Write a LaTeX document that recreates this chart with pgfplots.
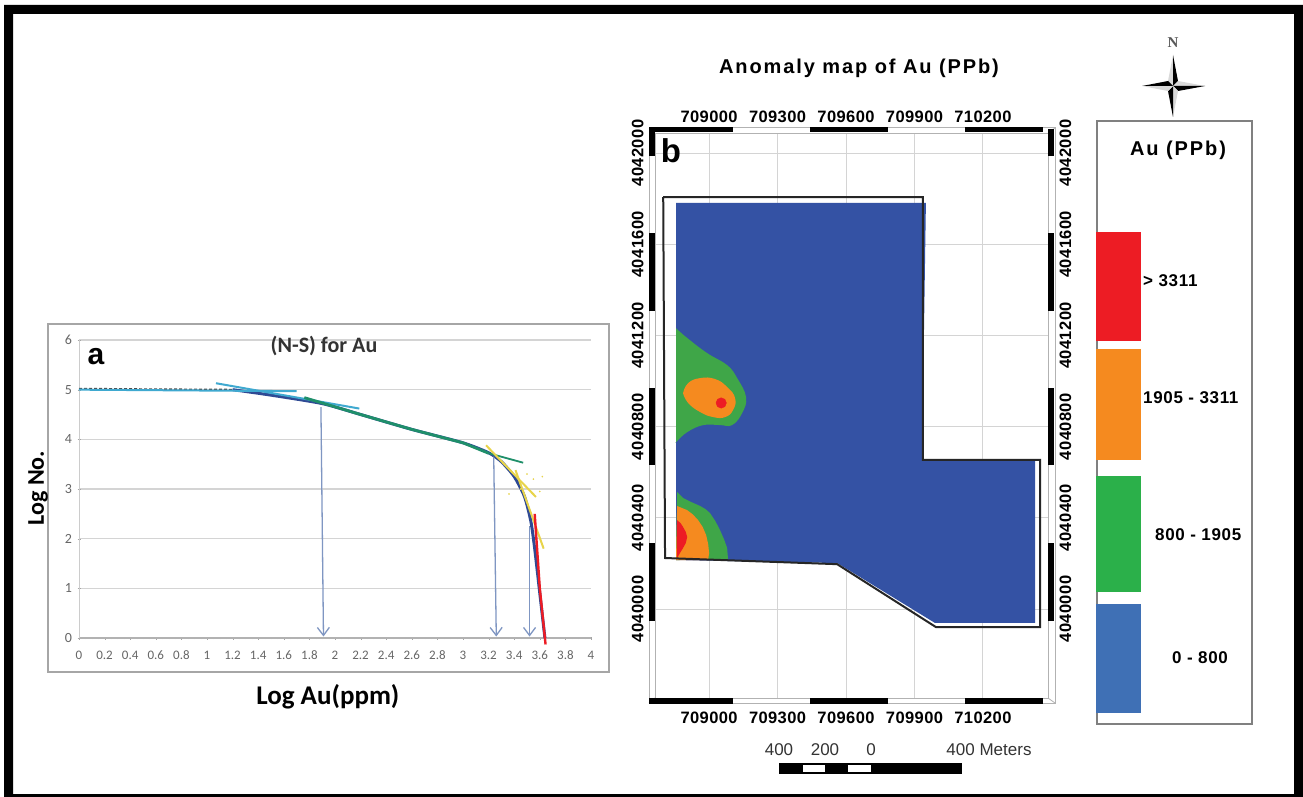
\documentclass[border=0pt]{standalone}
\usepackage{fontspec}
\setmainfont{Liberation Sans}
\newfontfamily\carl{Carlito}
\newfontfamily\tms{Liberation Serif}
\usepackage{pgfplots}
\pgfplotsset{compat=1.18}
\usetikzlibrary{arrows.meta}
\definecolor{mblue}{HTML}{3452A4}
\definecolor{mgreen}{HTML}{3FA648}
\definecolor{morange}{HTML}{F58A1F}
\definecolor{mred}{HTML}{ED1C24}
\definecolor{lblue}{HTML}{3F70B5}
\definecolor{lgreen}{HTML}{2BB04A}
\definecolor{arrowc}{HTML}{7F96C2}
\definecolor{gridc}{HTML}{D4D4D4}
\definecolor{lcyan}{HTML}{3FA9D0}
\definecolor{lgrn}{HTML}{1F8F6A}
\definecolor{lyel}{HTML}{E8D44A}
\newcommand{\tickfont}{\bfseries\fontsize{16.5}{17}\selectfont\addfontfeatures{LetterSpace=2.5}}
\newcommand{\ttlfont}{\bfseries\fontsize{20}{21}\selectfont\addfontfeatures{LetterSpace=9.5}}
\newcommand{\legfont}{\bfseries\fontsize{17}{18}\selectfont\addfontfeatures{LetterSpace=4}}
\begin{document}
\begin{tikzpicture}
\begin{scope}[x=1pt,y=-1pt]
\fill[white] (0,0) rectangle (1303,797);
\fill[black,even odd rule] (4,5) rectangle (1303,797) (13,14) rectangle (1294,794);
\draw[color=black!35,line width=1.2pt] (48,324) rectangle (609,672);
\end{scope}
% ---------- panel a
\begin{axis}[
  scale only axis, width=512pt, height=298pt,
  at={(79pt,-638pt)}, anchor=south west,
  xmin=0, xmax=4, ymin=0, ymax=6,
  axis x line=bottom, axis y line=left,
  x axis line style={-,color=black!30,line width=1.5pt},
  y axis line style={-,color=black!20,line width=1pt},
  xtick={0,0.2,0.4,0.6,0.8,1,1.2,1.4,1.6,1.8,2,2.2,2.4,2.6,2.8,3,3.2,3.4,3.6,3.8,4},
  xticklabels={0,0.2,0.4,0.6,0.8,1,1.2,1.4,1.6,1.8,2,2.2,2.4,2.6,2.8,3,3.2,3.4,3.6,3.8,4},
  minor x tick num=3,
  ytick={0,1,2,3,4,5,6},
  ymajorgrids, grid style={gridc,line width=1.4pt},
  tick style={color=black!35},
  major tick length=3pt, minor tick length=2pt,
  x tick label style={font=\carl\fontsize{13}{14}\selectfont,text=black!60,yshift=-8pt},
  y tick label style={font=\carl\fontsize{14}{15}\selectfont,text=black!60,xshift=-2pt},
  /pgf/number format/assume math mode=true,
  clip=false,
  xlabel={Log Au(ppm)}, ylabel={Log No.},
  xlabel style={font=\carl\bfseries\fontsize{27}{28}\selectfont,at={(axis description cs:0.486,-0.198)},anchor=center},
  ylabel style={font=\carl\bfseries\fontsize{24}{25}\selectfont,at={(axis description cs:-0.08,0.503)},anchor=center,rotate=0},
]
\addplot[black!70,densely dashed,line width=1.8pt] coordinates {(0,5.02)(0.5,5.01)(1.2,5.0)};
\addplot[mblue!90!black,line width=3pt,smooth,tension=0.4] coordinates {(1.2,5.0)(1.5,4.89)(1.9,4.72)(2.2,4.5)(2.6,4.2)(3,3.93)(3.2,3.73)(3.3,3.55)(3.4,3.25)(3.48,2.85)(3.53,2.35)(3.56,1.8)(3.6,0.9)(3.64,0)};
\addplot[lcyan,line width=2pt] coordinates {(0,5.0)(1.7,4.97)};
\addplot[lcyan,line width=2pt] coordinates {(1.07,5.13)(2.19,4.62)};
\addplot[lgrn,line width=2.8pt] coordinates {(1.76,4.84)(2.2,4.5)(2.6,4.2)(3,3.93)(3.2,3.72)};
\addplot[lgrn,line width=1.8pt] coordinates {(3.2,3.72)(3.47,3.53)};
\addplot[lyel,line width=2pt] coordinates {(3.18,3.88)(3.57,2.84)};
\addplot[lyel,line width=2pt] coordinates {(3.41,3.38)(3.63,1.8)};
\addplot[only marks,mark=*,mark size=0.6pt,lyel] coordinates {(3.45,3.0)(3.55,3.2)(3.62,3.25)(3.36,2.9)(3.5,3.3)(3.6,2.95)};
\addplot[mred,line width=2.4pt] coordinates {(3.56,2.5)(3.6,1.0)(3.645,-0.13)};
\addplot[arrowc,line width=1.3pt,-{Straight Barb[length=8pt,width=12pt]}] coordinates {(1.89,4.65)(1.91,0.03)};
\addplot[arrowc,line width=1.3pt,-{Straight Barb[length=8pt,width=12pt]}] coordinates {(3.24,3.65)(3.26,0.03)};
\addplot[arrowc,line width=1.3pt,-{Straight Barb[length=8pt,width=12pt]}] coordinates {(3.52,2.25)(3.52,0.03)};
\end{axis}
% ---------- panel b
\begin{axis}[
  scale only axis, width=393pt, height=565pt,
  at={(655pt,-698pt)}, anchor=south west,
  xmin=708763, xmax=710485, ymin=4039610, ymax=4042088,
  axis line style={color=black!30,line width=1pt},
  xtick={709000,709300,709600,709900,710200},
  xticklabels={709000,709300,709600,709900,710200},
  ytick={4040000,4040400,4040800,4041200,4041600,4042000},
  yticklabels={4040000,4040400,4040800,4041200,4041600,4042000},
  grid=major, grid style={gridc,line width=1pt},
  major tick length=0pt,
  x tick label style={font=\tickfont,yshift=-10pt},
  y tick label style={font=\tickfont,rotate=90,anchor=south,yshift=8pt},
  scaled ticks=false,
]
\addplot[fill=mblue,draw=none] coordinates {(708855,4041781)(709950,4041781)(709933,4040654)(710428,4040654)(710428,4039939)(709990,4039939)(709561,4040202)(708855,4040215)} -- cycle;
\addplot[fill=mgreen,draw=none,smooth,tension=0.7] coordinates {(708855,4041232)(708904,4041189)(708991,4041123)(709079,4041070)(709123,4041013)(709162,4040930)(709145,4040860)(709101,4040807)(709048,4040807)(708974,4040807)(708904,4040776)(708855,4040732)(708855,4040732)} -- cycle;
\addplot[fill=morange,draw=none,smooth,tension=0.8] coordinates {(708886,4040947)(708908,4040991)(708961,4041013)(709026,4041009)(709079,4040974)(709114,4040925)(709105,4040873)(709070,4040842)(709018,4040842)(708961,4040864)(708908,4040904)(708886,4040947)} -- cycle;
\addplot[only marks,color=mred,mark=*,mark size=5.2pt,mark options={fill=mred,draw=mred}] coordinates {(709053,4040904)};
\addplot[fill=mgreen,draw=none] coordinates {(708860,4040513)(708886,4040487)(708925,4040468)(708961,4040452)(708985,4040438)(709004,4040421)(709028,4040385)(709048,4040346)(709066,4040305)(709079,4040268)(709083,4040219)(708855,4040215)} -- cycle;
\addplot[fill=morange,draw=none] coordinates {(708860,4040452)(708904,4040434)(708930,4040414)(708952,4040390)(708972,4040360)(708987,4040325)(708996,4040285)(709000,4040246)(708996,4040215)(708855,4040215)} -- cycle;
\addplot[fill=mred,draw=none] coordinates {(708860,4040390)(708875,4040377)(708886,4040360)(708898,4040338)(708904,4040316)(708898,4040290)(708886,4040268)(708872,4040245)(708860,4040224)} -- cycle;
\addplot[black!85,line width=2pt] coordinates {(708799,4041807)(709937,4041807)(709937,4040654)(710450,4040654)(710450,4039921)(709994,4039921)(709561,4040197)(708807,4040224)(708799,4041807)};
\end{axis}
\begin{axis}[
  scale only axis, width=393pt, height=565pt,
  at={(655pt,-698pt)}, anchor=south west,
  xmin=708763, xmax=710485, ymin=4039610, ymax=4042088,
  axis line style={draw=none},
  xtick={709000,709300,709600,709900,710200},
  xticklabels={709000,709300,709600,709900,710200},
  ytick={4040000,4040400,4040800,4041200,4041600,4042000},
  yticklabels={4040000,4040400,4040800,4041200,4041600,4042000},
  xticklabel pos=upper, yticklabel pos=right,
  major tick length=0pt,
  scaled ticks=false,
  x tick label style={font=\tickfont,yshift=7pt},
  y tick label style={font=\tickfont,rotate=90,anchor=north,yshift=-8pt},
]
\addplot[draw=none] coordinates {(709000,4040000)};
\end{axis}
\begin{scope}[x=1pt,y=-1pt]
% map frame
\draw[color=black!30,line width=1pt] (649,128) rectangle (1055,703);
\foreach \a/\b in {649/655,1055/1048}{\draw[color=black!30,line width=.8pt] (\a,128) -- (\b,133) (\a,703) -- (\b,698);}
\foreach \a/\b in {649/733,810/888,965/1043}{
  \fill[black] (\a,127) rectangle (\b,132.5);
  \fill[black] (\a,698) rectangle (\b,704);}
\foreach \a/\b in {129/156,233/311,388/465,543/621}{
  \fill[black] (649,\a) rectangle (655,\b);
  \fill[black] (1048,\a) rectangle (1054,\b);}
% panel letters and titles
\node[font=\bfseries\fontsize{30}{30}\selectfont] at (96,357) {a};
\node[font=\bfseries\fontsize{33}{33}\selectfont] at (671,151) {b};
\node[font=\carl\bfseries\fontsize{22}{22}\selectfont,text=black!80] at (324,346) {(N-S) for Au};
\node[font=\ttlfont] at (859,68) {Anomaly map of Au (PPb)};
% legend
\draw[color=black!50,line width=1.1pt] (1097,121) rectangle (1252,724);
\node[font=\ttlfont] at (1178,150) {Au (PPb)};
\fill[mred] (1096,232) rectangle (1141,341);
\fill[morange] (1096,349) rectangle (1141,460);
\fill[lgreen] (1096,476) rectangle (1141,592);
\fill[lblue] (1096,604) rectangle (1141,713);
\node[font=\legfont,anchor=west,inner sep=0] at (1143,281) {> 3311};
\node[font=\legfont,anchor=west,inner sep=0] at (1143,398) {1905 - 3311};
\node[font=\legfont,anchor=west,inner sep=0] at (1155,535) {800 - 1905};
\node[font=\legfont,anchor=west,inner sep=0] at (1172,658) {0 - 800};
% scale bar
\fill[black] (779,763) rectangle (962,774);
\fill[white] (803,765) rectangle (825,772);
\fill[white] (848,765) rectangle (871,772);
\node[font=\fontsize{17}{18}\selectfont,text=black!80] at (779,750) {400};
\node[font=\fontsize{17}{18}\selectfont,text=black!80] at (825,750) {200};
\node[font=\fontsize{17}{18}\selectfont,text=black!80] at (871,750) {0};
\node[font=\fontsize{17}{18}\selectfont,text=black!80] at (989,750) {400 Meters};
% north arrow
\node[font=\tms\bfseries\fontsize{15}{15}\selectfont,text=black!65] at (1173,43) {N};
\fill[black!15] (1173,55) -- (1168,81) -- (1173,86) -- cycle;
\fill[black] (1173,55) -- (1178,81) -- (1173,86) -- cycle;
\fill[black!15] (1205,86) -- (1178,81) -- (1173,86) -- cycle;
\fill[black] (1205,86) -- (1178,91) -- (1173,86) -- cycle;
\fill[black!15] (1173,117) -- (1178,91) -- (1173,86) -- cycle;
\fill[black] (1173,117) -- (1168,91) -- (1173,86) -- cycle;
\fill[black!15] (1142,86) -- (1168,91) -- (1173,86) -- cycle;
\fill[black] (1142,86) -- (1168,81) -- (1173,86) -- cycle;
\end{scope}
\end{tikzpicture}
\end{document}
